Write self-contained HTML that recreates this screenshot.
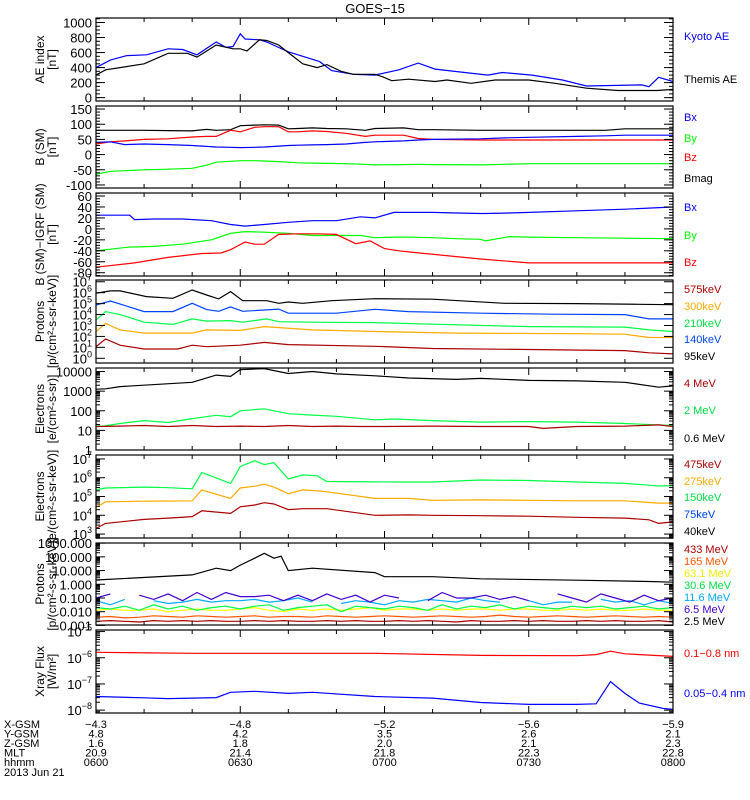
<!DOCTYPE html>
<html><head><meta charset="utf-8"><style>
body{margin:0;background:#fff;}
svg{display:block;font-family:"Liberation Sans",sans-serif;}
</style></head><body>
<svg id="chart" width="750" height="800" viewBox="0 0 750 800" xmlns="http://www.w3.org/2000/svg">
<rect x="0" y="0" width="750" height="800" fill="#fff"/>
<text x="375" y="13" font-size="13" text-anchor="middle">GOES−15</text>
<g id="panels"></g>
<g id="footer" font-size="11">
<text x="4" y="728">X-GSM</text><text x="4" y="737.5">Y-GSM</text><text x="4" y="747">Z-GSM</text><text x="4" y="756.5">MLT</text><text x="4" y="766">hhmm</text><text x="4" y="776">2013 Jun 21</text>
</g>
</svg>
<script>
// ---------- data (minutes since 06:00) ----------
const aeKyotoT = [0,3,6.4,10.5,15,18,21,25,27,28.5,30,31,34,35.5,40,46.5,49,53.5,58,63,67,70.5,81.5,84.5,90.7,97,102,113.5,115,117,120];
const aeKyotoV = [400,500,560,570,650,640,570,740,670,680,850,780,770,740,610,480,360,310,300,370,460,380,300,335,300,235,155,170,145,270,215];
const aeThemisT = [0,2,5,10,15,19,21,25,28.5,30,31.4,34,35.5,38,40,43,46,48,51,53.5,58,59.5,61.5,65,70.5,73,78,83,90,95.5,102,108.5,116.7,120];
const aeThemisV = [300,370,400,450,590,590,540,700,650,650,620,770,760,700,600,450,400,440,350,310,310,280,225,245,215,235,190,235,235,190,125,95,95,110];

const bT = [0,3,6,10,15,20,23,25,28,30,33,35,38,40,42,45,48,52,56,58,64,67,70,80,85,90,100,106,110,120];
const bMag = [80,80,80,80,79,78,83,80,82,95,97,98,97,85,86,88,86,85,80,86,88,82,82,80,80,80,80,80,85,85];
const bZ   = [35,42,45,50,52,58,60,60,80,75,90,92,92,75,75,78,76,70,60,64,64,53,50,48,48,48,48,48,48,48];
const bX   = [40,42,33,35,33,30,27,25,24,23,24,25,28,30,31,32,33,35,40,42,45,48,50,52,55,57,60,62,64,64];
const bY   = [-65,-55,-53,-50,-48,-45,-35,-25,-22,-20,-20,-21,-23,-25,-27,-28,-29,-30,-32,-34,-33,-32,-33,-34,-32,-30,-30,-30,-30,-30];

const dT  = [0,7,8,12,18,24,28,31,35,40,45,50,55,58,62,65,70,75,80,81,86,90,100,110,120];
const dBx = [25,25,17,18,18,15,8,5,8,12,15,15,22,20,30,30,30,29,28,28,29,30,33,36,40];
const dBy = [-40,-33,-33,-32,-28,-20,-8,-5,-6,-8,-12,-12,-12,-16,-15,-15,-16,-18,-19,-22,-14,-15,-16,-17,-18];
const dBzT = [0,8,15,22,26,28,31,33,35,38,42,46,50,54,57,60,63,66,80,90,100,120];
const dBz  = [-70,-62,-52,-45,-44,-38,-24,-28,-28,-10,-9,-9,-10,-27,-22,-36,-40,-43,-55,-62,-62,-62];

const pT1 = [0,3,5,10.5,16,20,23,25.5,28,30.5,35.5,38,40,43,49,58,70,85,100,113,120];
const p95  = [5.95,6.16,6.16,5.64,5.49,6.25,5.79,5.43,6.1,5.27,5.27,5.03,5.15,5.03,5.27,5.45,5.4,5.03,5.0,4.94,4.9];
const pT2 = [0,3,10,16,20,23,25.5,28,30.5,38,40,50,58,65,80,95,110,115,120];
const p140 = [4.87,5.24,4.27,4.27,5.03,4.45,4.3,4.7,4.3,4.5,4.12,4.12,4.48,4.27,4.12,4.03,4.0,3.6,3.6];
const pT3 = [0,2,5,10,16,20,23,28,30.5,35.5,38,45,58,70,90,110,115,120];
const p210 = [3.5,4.27,4.0,3.3,3.1,3.6,3.4,3.45,3.3,3.6,3.35,3.3,3.26,3.12,2.9,2.85,2.6,2.45];
const pT4 = [0,2,5,10,20,23,30,35,45,58,75,100,110,115,120];
const p300 = [2.43,3.2,2.6,2.3,2.3,2.6,2.55,2.9,2.6,2.45,2.3,2.25,2.2,1.9,1.9];
const pT5 = [0,2,5,10,17,20,23,30,35,40,58,70,90,110,115,120];
const p575 = [1.06,1.77,1.2,0.85,0.85,1.2,1.06,1.2,1.45,1.25,1.1,0.9,0.8,0.7,0.5,0.4];

const eT1 = [0,2,5,20,25,28,30,35,40,45,50,58,65,75,80,90,100,110,117,120];
const e06 = [3.1,3.12,3.23,3.45,3.82,3.75,4.1,4.15,3.9,4.0,3.88,3.78,3.67,3.6,3.65,3.55,3.52,3.45,3.2,3.27];
const eT2 = [0,1,5,10,15,20,25,28,30,35,40,45,50,58,62,70,80,90,100,110,120];
const e2  = [1.33,1.2,1.35,1.5,1.4,1.6,1.77,1.7,2.0,2.1,1.85,1.78,1.72,1.54,1.58,1.5,1.42,1.45,1.42,1.35,1.25];
const eT3 = [0,5,10,15,20,25,30,35,40,45,50,55,60,70,80,90,93,100,110,117,120];
const e4  = [1.2,1.22,1.25,1.2,1.25,1.2,1.22,1.2,1.25,1.2,1.22,1.2,1.2,1.22,1.2,1.2,1.1,1.2,1.22,1.28,1.2];

const kT = [0,2,10,15,20,22,28,30,33,35,37,40,43,46,48,58,65,70,80,90,100,110,115,117,120];
const k150 = [5.35,5.45,5.5,5.47,5.41,6.28,5.7,6.6,6.9,6.7,6.8,5.93,6.15,6.1,5.8,5.78,5.77,5.77,5.88,5.85,5.77,5.7,5.6,5.56,5.58];
const k275 = [4.42,4.72,4.75,4.76,4.77,5.35,4.9,5.45,5.55,5.65,5.5,5.15,5.35,5.3,5.25,4.9,4.9,4.8,4.82,4.8,4.77,4.77,4.68,4.65,4.65];
const k475 = [3.3,3.57,3.78,3.85,3.93,4.24,4.1,4.45,4.55,4.67,4.6,4.3,4.35,4.35,4.35,4.0,4.02,4.0,3.98,3.95,3.89,3.85,3.76,3.57,3.65];

const hT1 = [0,20,25,28,30,33,35,37,38.5,40,45,58,60,70,80,100,115,120];
const h25 = [0.31,0.68,1.17,1.0,1.4,1.9,2.26,1.9,2.05,1.0,1.17,0.85,0.55,0.55,0.4,0.3,0.2,0.15];
const hT3 = [0,3,6,9,12,15,18,21,24,27,30,33,36,39,42,45,48,51,54,57,60,63,66,69,72,75,78,81,84,87,90,93,96,99,102,105,108,111,114,117,120];
const h65  = [-1.0,-0.7,null,-0.8,-1.1,-0.7,-1.2,-0.6,-1.1,-0.6,-0.9,-0.9,-0.8,-1.2,-0.8,-1.2,-0.7,-1.1,-0.8,-1.3,-0.8,-1.0,null,-1.2,-0.6,-1.0,-1.0,-0.8,-1.1,-0.9,-1.2,null,-0.7,-1.0,-1.3,-0.7,-1.0,-1.3,-0.8,-1.2,-1.0];
const h116 = [-1.2,-1.5,-1.1,null,-1.2,-1.4,-1.3,-1.1,-1.3,-1.2,-1.2,-1.1,-1.3,-1.2,-1.0,-1.3,null,-1.4,-1.2,-1.3,-1.5,-1.2,-1.3,-1.1,-1.2,-1.3,-1.0,-1.2,-1.3,null,-1.2,-1.5,-1.3,-1.3,null,-1.1,-1.3,-1.2,-1.5,-1.2,-1.4];
const h306 = [-1.7,-1.8,-1.6,-1.9,-1.5,-1.8,-1.6,-1.9,-1.7,-1.6,-1.8,-1.6,-1.5,-1.9,-1.7,-1.6,-1.5,-2.0,-1.6,-1.7,-1.8,-1.6,-1.7,-1.9,-1.5,-1.8,-1.6,-1.7,-1.5,-1.8,-1.6,-1.7,-1.8,-1.6,-1.7,-1.6,-1.8,-1.7,-1.6,-1.8,-1.7];
const h631 = [-1.9,-1.8,-1.9,-1.9,-1.8,-2.0,-1.9,-1.8,-1.9,-1.9,-1.8,-1.7,-1.9,-2.0,-1.8,-1.9,-1.8,-1.9,-1.8,-1.7,-1.9,-1.8,-1.8,-1.9,-1.8,-1.9,-1.8,-1.8,-1.9,-1.8,-1.8,-1.9,-1.9,-1.8,-1.9,-1.8,-1.9,-1.9,-1.8,-1.9,-1.9];
const h165 = [-2.4,-2.35,-2.45,-2.4,-2.3,-2.35,-2.4,-2.3,-2.35,-2.4,-2.35,-2.3,-2.4,-2.35,-2.35,-2.4,-2.3,-2.35,-2.4,-2.35,-2.3,-2.35,-2.4,-2.35,-2.3,-2.35,-2.4,-2.35,-2.25,-2.35,-2.4,-2.35,-2.3,-2.35,-2.4,-2.35,-2.3,-2.35,-2.4,-2.35,-2.4];
const h433 = [-2.7,-2.65,-2.7,-2.75,-2.65,-2.7,-2.65,-2.7,-2.65,-2.7,-2.7,-2.65,-2.7,-2.65,-2.7,-2.7,-2.65,-2.7,-2.65,-2.7,-2.7,-2.65,-2.7,-2.65,-2.7,-2.75,-2.65,-2.7,-2.7,-2.65,-2.7,-2.65,-2.7,-2.7,-2.65,-2.7,-2.65,-2.7,-2.7,-2.65,-2.75];

const xT1 = [0,20,58,80,100,104,107,110,120];
const xLong = [-5.79,-5.83,-5.83,-5.91,-5.92,-5.88,-5.75,-5.85,-5.95];
const xT2 = [0,10,15,25,28,33,40,45,58,70,80,90,100,104,107,110,113,118,120];
const xShort = [-7.48,-7.53,-7.56,-7.52,-7.32,-7.28,-7.36,-7.32,-7.48,-7.54,-7.71,-7.78,-7.78,-7.76,-6.91,-7.36,-7.73,-7.94,-7.97];

const xCategories = [0,30,60,90,120];
const rowXgsm = ["−4.3","−4.8","−5.2","−5.6","−5.9"];
const rowYgsm = ["4.8","4.2","3.5","2.6","2.1"];
const rowZgsm = ["1.6","1.8","2.0","2.1","2.3"];
const rowMlt  = ["20.9","21.4","21.8","22.3","22.8"];
const rowHhmm = ["0600","0630","0700","0730","0800"];

// ---------- layout ----------
const NS="http://www.w3.org/2000/svg";
const X0=96, X1=673, TMAX=120;
const xs = t => X0 + (t/TMAX)*(X1-X0);
const root=document.getElementById('panels');
function el(tag, attrs, parent){const e=document.createElementNS(NS,tag);for(const k in attrs)e.setAttribute(k,attrs[k]);(parent||root).appendChild(e);return e;}

const panels=[
 {name:'ae-panel',y0:18,y1:101,min:-45,max:1060,log:false,major:[0,200,400,600,800,1000],minorStep:50,
  title:['AE index','[nT]'],
  series:[[aeKyotoT,aeKyotoV,'#0000ff','kyoto-ae-line'],[aeThemisT,aeThemisV,'#000','themis-ae-line']],
  legend:[['Kyoto AE','#0000ff',36],['Themis AE','#000',79]]},
 {name:'b-sm-panel',y0:106,y1:188,min:-110,max:160,log:false,major:[-100,-50,0,50,100,150],minorStep:10,
  title:['B (SM)','[nT]'],
  series:[[bT,bMag,'#000','bmag-line'],[bT,bZ,'#ff0000','bz-line'],[bT,bX,'#0000ff','bx-line'],[bT,bY,'#00ff00','by-line']],
  legend:[['Bx','#0000ff',117],['By','#00ff00',138],['Bz','#ff0000',157],['Bmag','#000',178]]},
 {name:'b-igrf-panel',y0:193,y1:276,min:-86,max:65.5,log:false,major:[-80,-60,-40,-20,0,20,40,60],minorStep:5,
  title:['B (SM)−IGRF (SM)','[nT]'],
  series:[[dT,dBx,'#0000ff','bx-igrf-line'],[dT,dBy,'#00ff00','by-igrf-line'],[dBzT,dBz,'#ff0000','bz-igrf-line']],
  legend:[['Bx','#0000ff',207],['By','#00ff00',235],['Bz','#ff0000',262]]},
 {name:'proton-kev-panel',y0:280,y1:363,min:-0.43,max:7.16,log:true,major:[0,1,2,3,4,5,6,7],fmt:'exp',minorLog:false,
  title:['Protons','[p/(cm²-s-sr-keV)]'],
  series:[[pT1,p95,'#000','p95kev-line'],[pT2,p140,'#0044ff','p140kev-line'],[pT3,p210,'#00ff44','p210kev-line'],[pT4,p300,'#ffaa00','p300kev-line'],[pT5,p575,'#aa0000','p575kev-line']],
  legend:[['575keV','#aa0000',289],['300keV','#ffaa00',306],['210keV','#00dd44',323],['140keV','#0044ff',339],['95keV','#000',356]]},
 {name:'electron-mev-panel',y0:368,y1:450,min:0,max:4.18,log:true,major:[0,1,2,3,4],fmt:'plain0',minorLog:true,
  title:['Electrons','[e/(cm²-s-sr)]'],
  series:[[eT1,e06,'#000','e06mev-line'],[eT2,e2,'#00ff44','e2mev-line'],[eT3,e4,'#aa0000','e4mev-line']],
  legend:[['4 MeV','#aa0000',383],['2 MeV','#00dd44',410],['0.6 MeV','#000',438]]},
 {name:'electron-kev-panel',y0:455,y1:538,min:2.79,max:7.21,log:true,major:[3,4,5,6,7],fmt:'exp',minorLog:true,
  title:['Electrons','[e/(cm²-s-sr-keV)]'],
  series:[[kT,k150,'#00ff44','e150kev-line'],[kT,k275,'#ffaa00','e275kev-line'],[kT,k475,'#aa0000','e475kev-line']],
  legend:[['475keV','#aa0000',464],['275keV','#ffaa00',481],['150keV','#00dd44',497],['75keV','#0044ff',514],['40keV','#000',531]]},
 {name:'proton-mev-panel',y0:543,y1:625,min:-2.97,max:3.01,log:true,major:[-3,-2,-1,0,1,2,3],fmt:'dec3',minorLog:true,
  title:['Protons','[p/(cm²-s-sr-keV)]'],
  series:[[hT3,h433,'#aa0000','p433mev-line'],[hT3,h165,'#ff5500','p165mev-line'],[hT3,h631,'#ffff00','p63mev-line'],[hT3,h306,'#00ff44','p30mev-line'],[hT3,h116,'#00aaff','p11mev-line'],[hT3,h65,'#4400cc','p6mev-line'],[hT1,h25,'#000','p2mev-line']],
  legend:[['433 MeV','#aa0000',549],['165 MeV','#ff5500',561],['63.1 MeV','#eeee00',573],['30.6 MeV','#00dd44',585],['11.6 MeV','#00aaff',597],['6.5 MeV','#4400cc',609],['2.5 MeV','#000',621]]},
 {name:'xray-panel',y0:630,y1:713,min:-8.11,max:-4.94,log:true,major:[-8,-7,-6,-5],fmt:'exp',minorLog:true,
  title:['Xray Flux','[W/m²]'],
  series:[[xT1,xLong,'#ff0000','xray-long-line'],[xT2,xShort,'#0000ff','xray-short-line']],
  legend:[['0.1−0.8 nm','#ff0000',653],['0.05−0.4 nm','#0000ff',693]]}
];

panels.forEach(p=>{
  const g=el('g',{});
  
  
  const ys=v=>p.y1-(v-p.min)/(p.max-p.min)*(p.y1-p.y0);
  const clipId='c_'+p.name;
  const cp=el('clipPath',{id:clipId},g); el('rect',{x:X0,y:p.y0,width:X1-X0,height:p.y1-p.y0},cp);
  // series
  p.series.forEach(s=>{
    const [T,V,col,nm]=s; const n=Math.min(T.length,V.length);
    let d='',pen=false;
    for(let i=0;i<n;i++){ if(V[i]===null){pen=false;continue;} d+=(pen?'L':'M')+xs(T[i]).toFixed(1)+' '+ys(V[i]).toFixed(1); pen=true; }
    const path=el('path',{d:d,fill:'none',stroke:col,'stroke-width':1.2,'clip-path':'url(#'+clipId+')'},g);
    
    
  });
  // frame
  const fr=el('rect',{x:X0,y:p.y0,width:X1-X0,height:p.y1-p.y0,fill:'none',stroke:'#000','stroke-width':1.2},g);
  
  
  // x ticks
  for(let t=0;t<=TMAX;t+=10){const L=(t%30===0)?7:4;const x=xs(t);
    el('line',{x1:x,x2:x,y1:p.y1,y2:p.y1-L,stroke:'#000'},g); el('line',{x1:x,x2:x,y1:p.y0,y2:p.y0+L,stroke:'#000'},g);}
  // y ticks
  const yt=el('g',{},g);
  
  
  const tick=(v,L)=>{const y=ys(v); if(y<p.y0-0.5||y>p.y1+0.5)return;
    el('line',{x1:X0,x2:X0+L,y1:y,y2:y,stroke:'#000'},yt); el('line',{x1:X1,x2:X1-L,y1:y,y2:y,stroke:'#000'},yt);};
  if(!p.log){ for(let v=Math.ceil(p.min/p.minorStep)*p.minorStep; v<=p.max; v+=p.minorStep) tick(v,4); }
  else if(p.minorLog){ for(let d=Math.floor(p.min);d<=p.max;d++) for(let k=2;k<10;k++) tick(d+Math.log10(k),4); }
  p.major.forEach(v=>{tick(v,9); const y=ys(v);
    const tx=el('text',{x:92,y:y+5,'font-size':13,'text-anchor':'end'},yt);
    
    
    if(!p.log) tx.textContent=v;
    else if(p.fmt==='plain0') tx.textContent=String(Math.round(Math.pow(10,v)));
    else if(p.fmt==='dec3') tx.textContent=Math.pow(10,v).toFixed(3);
    else { tx.textContent='10'; const sp=el('tspan',{dy:-6,'font-size':9},tx); sp.textContent=String(v).replace('-','−'); }
  });
  // title
  const cy=(p.y0+p.y1)/2;
  const ti=el('text',{transform:'translate(44,'+cy+') rotate(-90)','font-size':12,'text-anchor':'middle'},g);
  
  
  ti.textContent=p.title[0];
  const ti2=el('text',{transform:'translate(56,'+cy+') rotate(-90)','font-size':12,'text-anchor':'middle'},g);
  
  
  ti2.textContent=p.title[1];
  // legend
  p.legend.forEach(l=>{const t=el('text',{x:684,y:l[2]+4,'font-size':11,fill:l[1]},g);
    
    
    t.textContent=l[0];});
});

// footer value columns
const footer=document.getElementById('footer');
[rowXgsm,rowYgsm,rowZgsm,rowMlt,rowHhmm].forEach((row,ri)=>{
  row.forEach((s,i)=>{const t=el('text',{x:xs(xCategories[i]),y:728+ri*9.5,'text-anchor':'middle'},footer);
    
    
    t.textContent=s;});
});
</script>
</body></html>
